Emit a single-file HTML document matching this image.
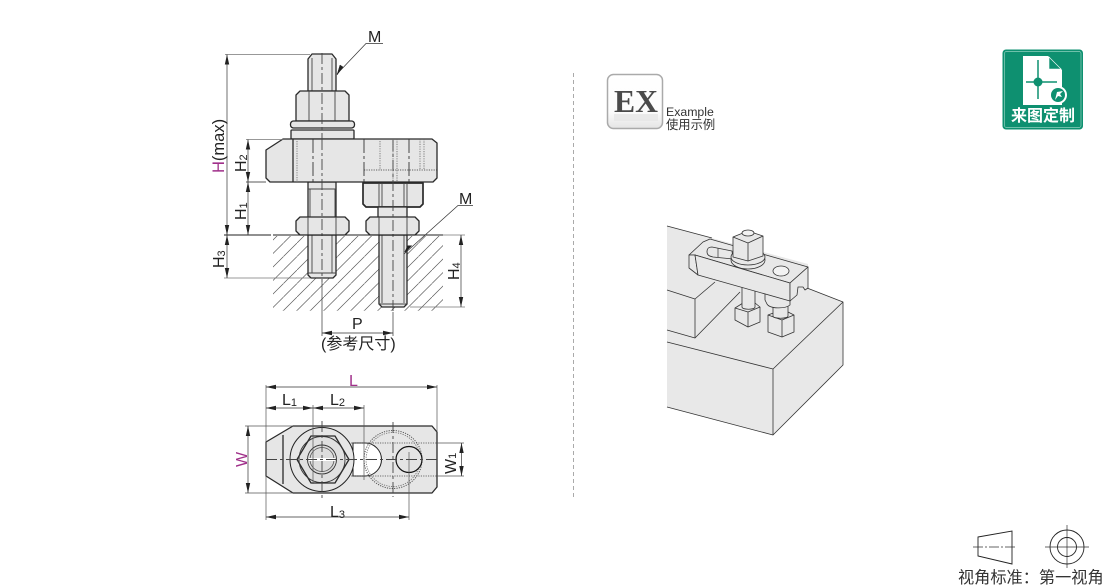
<!DOCTYPE html>
<html><head><meta charset="utf-8">
<style>
html,body{margin:0;padding:0;background:#fff;width:1110px;height:588px;overflow:hidden}
svg{display:block}
text{font-family:"Liberation Sans","Noto Sans CJK SC",sans-serif;fill:#222}
.p{fill:#e6e6e6;stroke:#2a2a2a;stroke-width:1.3;stroke-linejoin:round}
.t{fill:none;stroke:#2a2a2a;stroke-width:1.3}
.w{fill:none;stroke:#444;stroke-width:.9}
.d{fill:none;stroke:#333;stroke-width:.7}
.da{fill:none;stroke:#333;stroke-width:.7;marker-start:url(#a);marker-end:url(#a)}
.c{fill:none;stroke:#444;stroke-width:.9;stroke-dasharray:11 3 3 3}
.o{fill:none;stroke:#666;stroke-width:.8;stroke-dasharray:1.2 1.2}
.iso{fill:#e8e8e8;stroke:#333;stroke-width:.8;stroke-linejoin:round}
.isl{fill:none;stroke:#333;stroke-width:.8;stroke-linejoin:round}
.l{font-size:16px}
.s{font-size:11px}
</style></head><body>
<svg width="1110" height="588" viewBox="0 0 1110 588" xmlns="http://www.w3.org/2000/svg">
<defs>
<marker id="a" markerWidth="11" markerHeight="6" refX="10" refY="3" orient="auto-start-reverse" markerUnits="userSpaceOnUse"><path d="M0 .8L10 3L0 5.2Z" fill="#222"/></marker>
<pattern id="h" patternUnits="userSpaceOnUse" width="13.5" height="13.5"><path d="M0 13.5L13.5 0" stroke="#555" stroke-width=".65"/></pattern>
<linearGradient id="ex" x1="0" y1="0" x2="0" y2="1"><stop offset="0" stop-color="#fff"/><stop offset=".7" stop-color="#fbfbfb"/><stop offset="1" stop-color="#e4e4e4"/></linearGradient>
</defs>

<!-- hatch -->
<rect x="273" y="236" width="170" height="75" fill="url(#h)"/>

<!-- side view: bolts -->
<path class="p" d="M308 91V59L312 54H332L336 59V91Z"/>
<path class="w" d="M312 58V91M332 58V91"/>
<path class="p" d="M296 121V95L300 91H345L349 95V121Z"/>
<path class="w" d="M309 91V121M335 91V121"/>
<rect class="p" x="290.500" y="121" width="64" height="7" rx="3"/>
<rect class="p" x="291" y="130" width="63" height="9" rx="1"/>

<path class="p" d="M308 182V218H336V182Z"/>
<path class="w" d="M310 189V218M335 189V218M308 189H336"/>
<path class="p" d="M308 235V275L311 278H333L336 275V235Z"/>
<path class="w" d="M312 235V273M332 235V273M308 273H336"/>
<path class="p" d="M300 217H345L349 221V231L345 235H300L296 231V221Z"/>
<path class="w" d="M308 217V235M336 217V235"/>

<!-- clamp -->
<path class="p" d="M283 139H432L437 143V178L433 182H270L266 178V150Z"/>
<path class="t" d="M293 139V182"/>
<path class="o" d="M297 141V182M380 141V170M393 139V182M397 139V182M420 139V170M424 139V170"/>
<path class="o" d="M364 170H437" style="stroke:#333"/>
<path d="M313 139V182M364 139V182M409 139V182" fill="none" stroke="#333" stroke-width=".9" stroke-dasharray="14 3 3 3"/>

<!-- right stud -->
<path class="p" d="M363 183H423V204L420 207H366L363 204Z" style="stroke-width:1.700"/>
<path class="w" d="M379 183V207M382 183V207M404 183V207M407 183V207"/>
<rect class="p" x="378" y="207" width="29" height="11"/>
<path class="p" d="M379 235V304L382 307H404L407 304V235Z"/>
<path class="w" d="M382 235V303M404 235V303M379 304H407"/>
<path class="p" d="M370 217H415L419 221V231L415 235H370L366 231V221Z"/>
<path class="w" d="M379 217V235M407 217V235"/>

<!-- center lines -->
<path class="c" d="M322 53V139M322 139V282"/>
<path class="c" d="M393 140V312"/>
<path class="d" d="M322 282V336M393 312V336"/>

<!-- baseline -->
<path d="M224 235H271M273 235H443" stroke="#222" stroke-width="1" fill="none"/>
<path d="M246 182H266" stroke="#222" stroke-width=".8"/>

<!-- dims -->
<path class="d" d="M225 54.500H310M246 139.500H283M224 278H310M410 307H465M443 235H465" style="stroke:#777"/>
<path class="da" d="M227 54.500V235"/>
<path class="da" d="M227 235V278"/>
<path class="da" d="M248 139.500V182"/>
<path class="da" d="M248 182V235"/>
<path class="da" d="M461 235V307"/>
<path class="da" d="M322 333H393"/>
<!-- leaders -->
<path class="d" d="M383 43.500H366L337 74"/>
<path d="M343 67L337 75L340 65Z" fill="#222" stroke="#222" stroke-width=".5"/>
<path class="d" d="M473 205.500H458L404 254"/>
<path d="M411 246L405 252L408 246Z" fill="#222" stroke="#222"/>

<text class="l" x="368" y="42">M</text>
<text class="l" x="459" y="204">M</text>
<text class="l" x="352" y="329">P</text>
<text x="321" y="349" style="font-size:16px">(参考尺寸)</text>
<g transform="translate(224,173) rotate(-90)"><text style="font-size:16.500px"><tspan style="fill:#a0308a">H</tspan>(max)</text></g>
<g transform="translate(246,172) rotate(-90)"><text class="l">H<tspan class="s" dy="1">2</tspan></text></g>
<g transform="translate(246,220) rotate(-90)"><text class="l">H<tspan class="s" dy="1">1</tspan></text></g>
<g transform="translate(224,268) rotate(-90)"><text class="l">H<tspan class="s" dy="1">3</tspan></text></g>
<g transform="translate(459,280) rotate(-90)"><text class="l">H<tspan class="s" dy="1">4</tspan></text></g>

<!-- top view -->
<path class="p" d="M293 426H432L437 432V487L432 493H293L266 476V442Z"/>
<path class="t" d="M283 435V484"/>
<path d="M353 443H365A16.500 16.500 0 0 1 365 476H353Z" fill="#fff" stroke="#222" stroke-width="1"/>
<path class="o" d="M320 443H437M320 476H437" style="stroke:#444"/>
<circle cx="393" cy="459.500" r="29" class="o" style="stroke:#555;stroke-width:1"/>
<circle cx="393" cy="459.500" r="27" class="o"/>
<circle cx="322" cy="459.500" r="32" fill="#e6e6e6" stroke="#222" stroke-width="1"/>
<path class="p" d="M297 459.500L311 436H335L349 459.500L335 483H311Z" style="fill:#e0e0e0"/>
<circle cx="322" cy="459.500" r="23" fill="none" stroke="#333" stroke-width=".9"/>
<circle cx="322" cy="459.500" r="14.500" fill="#ddd" stroke="#333" stroke-width=".9"/>
<circle cx="322" cy="459.500" r="12" fill="none" stroke="#555" stroke-width=".8"/>
<rect x="309" y="458" width="26" height="3" fill="#fff"/>
<circle cx="409" cy="459.500" r="13" fill="#e4e4e4" stroke="#111" stroke-width="1.200"/>
<path class="c" d="M266 459.500H437"/>
<path class="c" d="M322 421V498M393 422V497"/>

<path class="d" d="M266 385V520M437 385V432M313 405V484M364 405V480M409 452V520M245 426H293M245 493H293M437 443H464M437 476H464" style="stroke:#555"/>
<path class="da" d="M266 387H437"/>
<path class="da" d="M266 408H313"/>
<path class="da" d="M313 408H364"/>
<path class="da" d="M266 517H409"/>
<path class="da" d="M248 426V493"/>
<path class="da" d="M461.500 443V476"/>
<text class="l" x="349" y="386" style="fill:#a0308a">L</text>
<text class="l" x="282" y="405">L<tspan class="s" dy="1">1</tspan></text>
<text class="l" x="330" y="405">L<tspan class="s" dy="1">2</tspan></text>
<text class="l" x="330" y="517">L<tspan class="s" dy="1">3</tspan></text>
<g transform="translate(247,467) rotate(-90)"><text class="l" style="fill:#a0308a">W</text></g>
<g transform="translate(456,474) rotate(-90)"><text class="l">W<tspan class="s">1</tspan></text></g>

<!-- separator -->
<path d="M573.500 73V497" stroke="#aaa" stroke-width="1" stroke-dasharray="4 3" fill="none"/>

<!-- EX icon -->
<rect x="607.500" y="74.500" width="55" height="54" rx="6" fill="url(#ex)" stroke="#aaa" stroke-width="1.500"/>
<rect x="614" y="114" width="44" height="7" fill="#e6e6e6" opacity=".8"/>
<text x="614" y="112" textLength="44" lengthAdjust="spacingAndGlyphs" style="font-family:'Liberation Serif',serif;font-size:32px;font-weight:bold;fill:#4a4a4a">EX</text>
<text x="666" y="116" style="font-size:12.300px;fill:#333">Example</text>
<text x="666" y="129" style="font-size:12.300px;fill:#333">使用示例</text>

<!-- badge -->
<rect x="1003" y="50" width="79.500" height="79" rx="3" fill="#0e9070" stroke="#0e9070"/>
<rect x="1004.500" y="51.500" width="76.500" height="76" rx="2" fill="none" stroke="#8fd0bd" stroke-width=".7"/>
<path d="M1023 56H1048L1062 70V105H1023Z" fill="#fff"/>
<path d="M1049 57L1061 69H1049Z" fill="#0e9070" stroke="#fff" stroke-width=".6"/>
<path d="M1038 60V99M1026 82H1057" stroke="#0e9070" stroke-width="1.500" fill="none"/>
<circle cx="1038" cy="82" r="4.500" fill="#0e9070"/>
<circle cx="1058" cy="95" r="9" fill="#fff"/>
<circle cx="1058" cy="95" r="7" fill="#0e9070"/>
<path d="M1055 100L1057 92L1063 91L1060 94L1062 97L1058 96Z" fill="#fff"/>
<text x="1011" y="121" style="font-size:16px;font-weight:bold;fill:#fff">来图定制</text>

<!-- isometric base -->
<path d="M667 226L808 264V288L843 302L773 369V435L667 407Z" fill="#e8e8e8"/>
<path d="M773 369L843 302V365L773 435Z" fill="#e8e8e8"/>
<path class="isl" d="M667 226L712 238M807 288L843 302V365L773 435L667 407M773 369V435M667 342L773 369L843 302"/>
<path class="isl" d="M667 290L695 299V338L667 330M695 299L715 282M695 338L740 292"/>

<!-- lower studs -->
<path class="iso" d="M735 308L743 303H755L760 307V322L748 327L735 320Z"/>
<path class="isl" d="M735 308L748 312L760 307M748 312V327"/>
<path class="iso" d="M742 285H755V307C755 310 742 310 742 307Z"/>
<path class="iso" d="M768 315L776 312H788L794 315V332L782 337L768 332Z"/>
<path class="isl" d="M768 315L782 320L794 315M782 320V337"/>
<path class="iso" d="M773 300H788V316C788 319 773 319 773 316Z"/>
<path class="iso" d="M765 290H790V305C785 309 770 309 767 304L765 300Z"/>

<!-- clamp iso -->
<path class="iso" d="M689 255L703 242L710 239L808 267L790 283L695 255Z"/>
<path class="iso" d="M689 255L695 255L698 275L689 268Z"/>
<path class="iso" d="M695 255L790 283V301L698 275Z"/>
<path class="iso" d="M790 283L808 267V288L805 290L803 287H798L797 295L790 301Z"/>
<path class="iso" d="M707 252C707 248 709 247 712 247L732 251L733 259L713 257C709 256 707 255 707 252Z" fill="#f3f3f3"/>
<path d="M718 248V257" stroke="#333" stroke-width=".7"/>
<ellipse cx="781" cy="271" rx="8" ry="5" class="iso" style="fill:#f2f2f2"/>
<ellipse cx="748" cy="260" rx="17" ry="9" class="iso"/>
<ellipse cx="748" cy="257" rx="17" ry="8" class="iso"/>
<path class="iso" d="M733 237L748 231L763 236V256L748 261L733 257Z"/>
<path class="isl" d="M733 237L748 243L763 236M748 243V261"/>
<ellipse cx="748" cy="233" rx="6" ry="3" class="iso" style="fill:#f2f2f2"/>

<!-- view symbol -->
<path d="M978 537L1012 531V564L978 556Z" fill="none" stroke="#222" stroke-width=".9"/>
<path d="M973 547H1016" stroke="#333" stroke-width=".7" stroke-dasharray="10 2 2 2" fill="none"/>
<circle cx="1067" cy="547" r="17" fill="none" stroke="#222" stroke-width=".9"/>
<circle cx="1067" cy="547" r="9.500" fill="none" stroke="#222" stroke-width=".9"/>
<path d="M1045 547H1089M1067 525V568" stroke="#333" stroke-width=".7" fill="none"/>
<text x="958" y="583" style="font-size:16.200px;fill:#333">视角标准：第一视角</text>
</svg>
</body></html>
